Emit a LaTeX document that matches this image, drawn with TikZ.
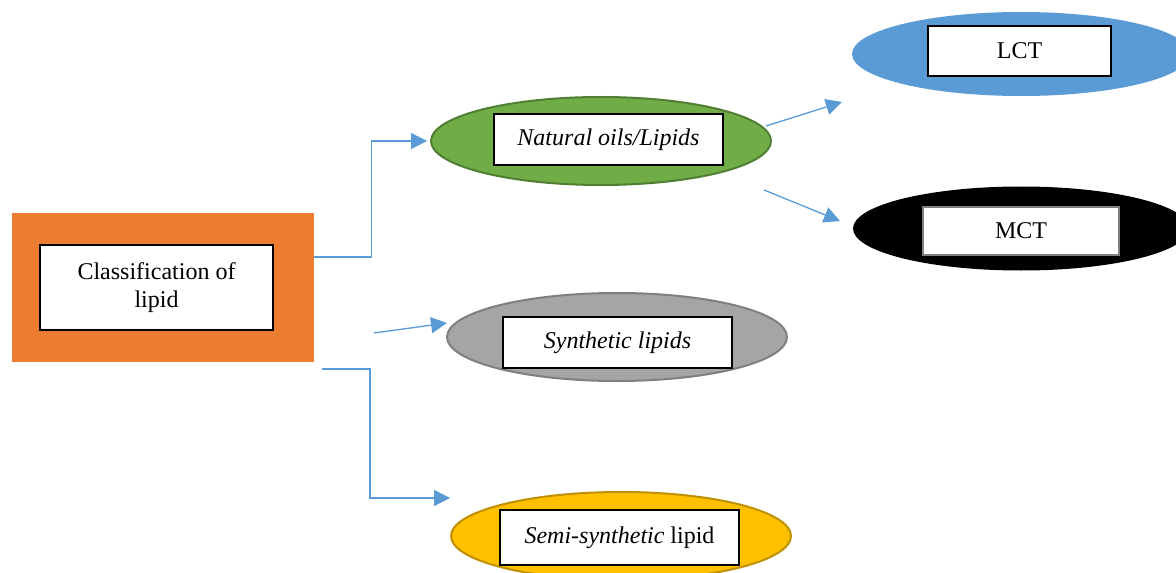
\documentclass[tikz,border=0pt]{standalone}
\usepackage{fontspec}
\setmainfont{Liberation Serif}
\usepackage{xcolor}
\usetikzlibrary{shapes.geometric}
\usetikzlibrary{arrows.meta}
\usetikzlibrary{positioning}
\usetikzlibrary{calc}

\definecolor{rootorange}{HTML}{ED7D31}
\definecolor{natgreen}{HTML}{70AD47}
\definecolor{natedge}{HTML}{507E32}
\definecolor{lctblue}{HTML}{5B9BD5}
\definecolor{syngray}{HTML}{A5A5A5}
\definecolor{synedge}{HTML}{7F7F7F}
\definecolor{semiyellow}{HTML}{FFC000}
\definecolor{semiedge}{HTML}{BF9000}
\definecolor{linkblue}{HTML}{5B9BD5}

\begin{document}
\begin{tikzpicture}[x=0.5pt,y=-0.5pt,
  txtbox/.style={draw,fill=white,line width=1pt,inner sep=0pt,align=center},
  oval/.style={ellipse,line width=1pt,minimum width=170pt,minimum height=44pt,inner sep=0pt},
  link/.style={draw=linkblue,line width=0.65pt},
  linkarrow/.style={link,-{Triangle[length=8pt,width=8pt]}}]
\fontsize{12}{14}\selectfont
\useasboundingbox (0,0) rectangle (1176,572);
\clip (0,0) rectangle (1176,572);

% root box
\node[fill=rootorange,minimum width=151pt,minimum height=74.5pt,inner sep=0pt] (root) at (163,287.5) {};
\node[txtbox,minimum width=116.5pt,minimum height=42.5pt] (rootlbl) at (156.5,287.5) {Classification of\\lipid};

% second level
\node[oval,fill=natgreen,draw=natedge] (natural) at (601,141) {};
\node[txtbox,minimum width=114.5pt,minimum height=25.5pt] (naturallbl) at (608.5,139.5) {\textit{Natural oils/Lipids}};

\node[oval,fill=syngray,draw=synedge] (synthetic) at (617,337) {};
\node[txtbox,minimum width=114.5pt,minimum height=25.5pt] (syntheticlbl) at (617.5,342.5) {\textit{Synthetic lipids}};

\node[oval,fill=semiyellow,draw=semiedge] (semi) at (621,536) {};
\node[txtbox,minimum width=119.5pt,minimum height=27.5pt] (semilbl) at (619.5,537.5) {\textit{Semi-synthetic} lipid};

% third level
\node[oval,fill=lctblue,minimum width=169pt,minimum height=42pt] (lct) at (1021,54) {};
\node[txtbox,minimum width=91.5pt,minimum height=25pt] (lctlbl) at (1019.5,51) {LCT};

\node[oval,fill=black,minimum width=168pt,minimum height=42pt] (mct) at (1021,228.5) {};
\node[txtbox,draw=gray,minimum width=98pt,minimum height=24pt] (mctlbl) at (1021,231) {MCT};

% connectors
\coordinate (synout) at (374,333);
\coordinate (synin) at (447,323);
\coordinate (semiout) at (322,369);
\coordinate (semiin) at (450,498);
\coordinate (natout1) at (766,126);
\coordinate (lctin) at (842,102);
\coordinate (natout2) at (764,190);
\coordinate (mctin) at (840,221);

\draw[linkarrow] ([yshift=15.25pt]root.east) -- ++(57,0) |- ([xshift=-1.5pt]natural.west);
\draw[linkarrow] (synout) -- (synin);
\draw[linkarrow] (semiout) -- ++(48,0) |- (semiin);
\draw[linkarrow] (natout1) -- (lctin);
\draw[linkarrow] (natout2) -- (mctin);

\end{tikzpicture}
\end{document}
